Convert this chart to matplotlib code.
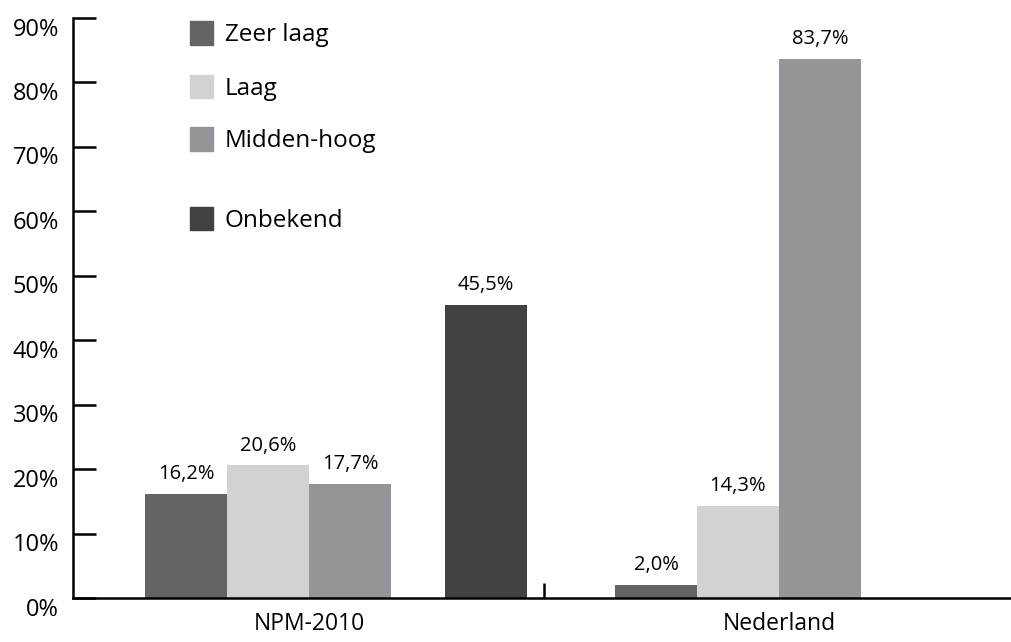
import matplotlib.pyplot as plt
from matplotlib.patches import Rectangle
from matplotlib.transforms import ScaledTranslation

plt.rcParams['font.family'] = ['Open Sans', 'DejaVu Sans']

groups = ['NPM-2010', 'Nederland']
series = ['Zeer laag', 'Laag', 'Midden-hoog', 'Onbekend']
values = {
    'Zeer laag': [16.2, 2.0],
    'Laag': [20.6, 14.3],
    'Midden-hoog': [17.7, 83.7],
    'Onbekend': [45.5, None],
}
colors = ['#646466', '#d1d2d4', '#949598', '#414042']
yticks = [0, 10, 20, 30, 40, 50, 60, 70, 80, 90]

# bar offsets (in bar widths) from the group center
offsets = [-1.5, -0.5, 0.5, 2.16]
group_x = [0, 5.73]

fig = plt.figure(figsize=(10.11, 6.42), dpi=100)
ax = fig.add_axes([73 / 1011, 1 - 598 / 642, 1 - 73 / 1011, (598 - 18) / 642])

for s, name in enumerate(series):
    for g, gx in enumerate(group_x):
        v = values[name][g]
        if v is None:
            continue
        ax.bar(gx + offsets[s], v, width=1.0, color=colors[s], linewidth=0)
        ax.annotate(f"{v:.1f}".replace('.', ',') + '%', (gx + offsets[s], v),
                    xytext=(0, 7), textcoords='offset points',
                    ha='center', va='bottom', fontsize=14.5)

ax.set_xlim(-2.88, 8.56)
ax.set_ylim(0, 90)

for side in ['top', 'right']:
    ax.spines[side].set_visible(False)
for side in ['left', 'bottom']:
    ax.spines[side].set_linewidth(1.8)

ax.set_yticks(yticks)
ax.set_yticklabels([f"{t}%" for t in yticks], fontsize=17)
ax.tick_params(axis='y', direction='in', length=16.5, width=1.8, pad=10)
for lab in ax.get_yticklabels():
    lab.set_transform(lab.get_transform() + ScaledTranslation(0, -0.085, fig.dpi_scale_trans))

ax.set_xticks(group_x)
ax.set_xticklabels(groups, fontsize=16.5)
ax.tick_params(axis='x', which='major', length=0, pad=10)
ax.set_xticks([(group_x[0] + group_x[1]) / 2], minor=True)
ax.tick_params(axis='x', which='minor', direction='in', length=11, width=1.8)

# legend drawn by hand to keep the uneven spacing
leg_y = [33, 87, 139, 219]
for name, c, py in zip(series, colors, leg_y):
    yf = 1 - (py - 18) / 580
    xf = (190 - 73) / 938
    ax.add_patch(Rectangle((xf, yf - 11.5 / 580), 23 / 938, 23 / 580,
                           transform=ax.transAxes, color=c, clip_on=False))
    ax.text((225 - 73) / 938, yf - 2 / 580, name, transform=ax.transAxes,
            va='center', ha='left', fontsize=17.5)

fig.savefig('out.png', dpi=100)
